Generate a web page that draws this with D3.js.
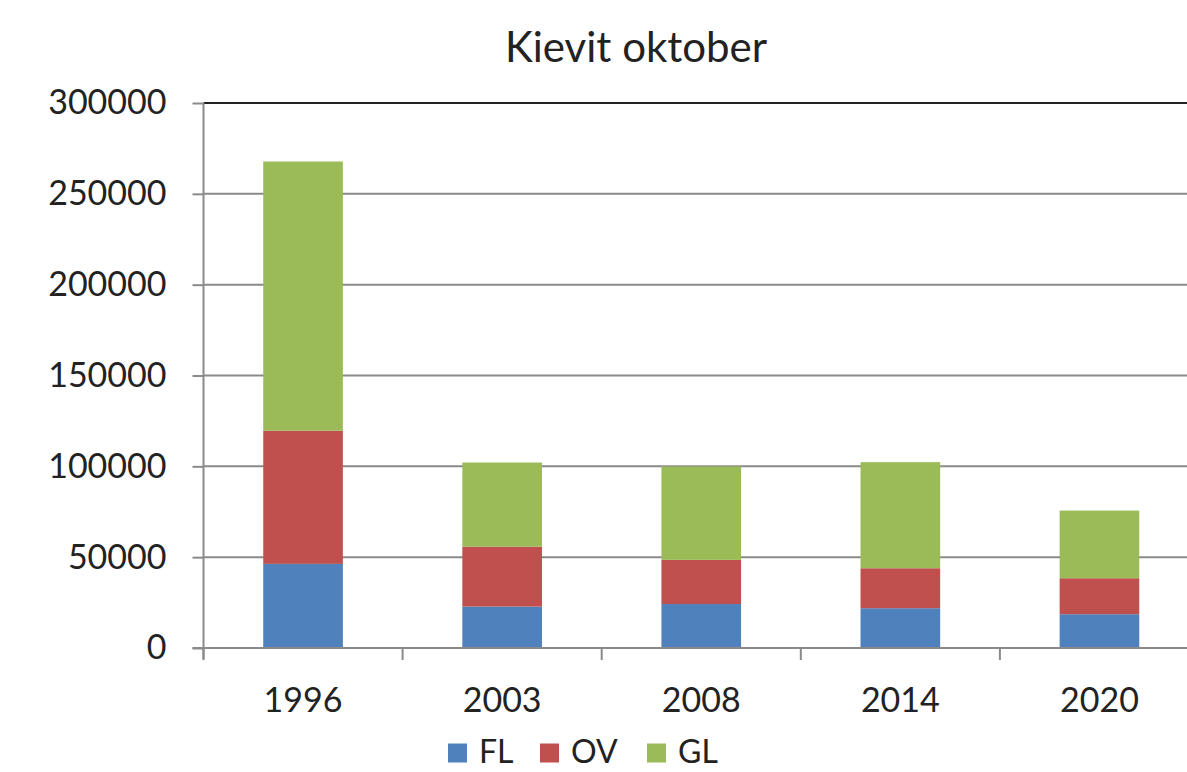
<!DOCTYPE html>
<meta charset="utf-8">
<style>
body { margin: 0; background: #fff; }
svg text { font-family: Lato, "Open Sans", sans-serif; fill: #222; }
.grid line { stroke: #8a8a8a; stroke-width: 2px; }
.axis path, .axis line { stroke: #8a8a8a; stroke-width: 2px; }
</style>
<svg width="1187" height="772"></svg>
<script src="https://cdn.jsdelivr.net/npm/d3@7"></script>
<script>

var years = ["1996", "2003", "2008", "2014", "2020"];
var seriesNames = ["FL", "OV", "GL"];
var colors = ["#4f81bd", "#c0504d", "#9bbb59"];
var FL = [46300, 22800, 24200, 21900, 18600];
var OV = [73300, 33000, 24300, 22000, 19800];
var GL = [148200, 46300, 51400, 58400, 37250];
var yTicks = [0, 50000, 100000, 150000, 200000, 250000, 300000];

var svg = d3.select("svg"),
    margin = {top: 103, right: -12, bottom: 124, left: 203.5},
    width = +svg.attr("width") - margin.left - margin.right,
    height = +svg.attr("height") - margin.top - margin.bottom,
    g = svg.append("g").attr("transform", "translate(" + margin.left + "," + margin.top + ")");

var x = d3.scaleBand().domain(years).range([0, width]).paddingInner(0.6).paddingOuter(0.3),
    y = d3.scaleLinear().domain([0, 300000]).range([height, 0]),
    z = d3.scaleOrdinal().domain(seriesNames).range(colors);

var rows = years.map(function(yr, i) {
  return {year: yr, FL: FL[i], OV: OV[i], GL: GL[i]};
});
var stacked = d3.stack().keys(seriesNames)(rows);

// gridlines
g.append("g")
    .attr("class", "grid")
  .selectAll("line")
  .data(yTicks.slice(1))
  .enter().append("line")
    .attr("x1", 0)
    .attr("x2", width)
    .attr("y1", function(d) { return y(d); })
    .attr("y2", function(d) { return y(d); })
    .style("stroke", function(d) { return d === 300000 ? "#222" : null; });

// bars
g.selectAll(".serie")
  .data(stacked)
  .enter().append("g")
    .attr("class", "serie")
    .attr("fill", function(d) { return z(d.key); })
  .selectAll("rect")
  .data(function(d) { return d; })
  .enter().append("rect")
    .attr("x", function(d) { return x(d.data.year); })
    .attr("y", function(d) { return y(d[1]); })
    .attr("height", function(d) { return y(d[0]) - y(d[1]); })
    .attr("width", x.bandwidth());

// y axis
var yAxis = g.append("g")
    .attr("class", "axis axis--y")
    .call(d3.axisLeft(y).tickValues(yTicks).tickSize(11).tickPadding(26).tickFormat(d3.format("d")));
yAxis.select(".domain").attr("d", "M0," + (height + 11) + "V0");
yAxis.selectAll("text").style("font-size", "34px").style("fill", "#222");

// x axis
var step = x.step(), edges = d3.range(years.length + 1).map(function(i) { return i * step; });
var xAxis = g.append("g")
    .attr("class", "axis axis--x")
    .attr("transform", "translate(0," + height + ")");
xAxis.append("line").attr("x1", -11).attr("x2", width).attr("y1", 0).attr("y2", 0);
xAxis.selectAll(".tick")
  .data(edges)
  .enter().append("line")
    .attr("class", "tick")
    .attr("x1", function(d) { return d; })
    .attr("x2", function(d) { return d; })
    .attr("y1", 0)
    .attr("y2", 12);
xAxis.selectAll(".lbl")
  .data(years)
  .enter().append("text")
    .attr("class", "lbl")
    .attr("x", function(d) { return x(d) + x.bandwidth() / 2; })
    .attr("y", 64)
    .attr("text-anchor", "middle")
    .style("font-size", "34px")
    .text(function(d) { return d; });

// title
svg.append("text")
    .attr("x", 636)
    .attr("y", 62)
    .attr("text-anchor", "middle")
    .style("font-size", "42px")
    .text("Kievit oktober");

// legend
var legendX = [448, 540, 647];
var legend = svg.append("g").attr("transform", "translate(0,753)");
var item = legend.selectAll(".item")
  .data(seriesNames)
  .enter().append("g")
    .attr("class", "item")
    .attr("transform", function(d, i) { return "translate(" + legendX[i] + ",0)"; });
item.append("rect")
    .attr("x", 0).attr("y", -9.5)
    .attr("width", 19).attr("height", 19)
    .attr("fill", function(d) { return z(d); });
item.append("text")
    .attr("x", 31)
    .attr("y", 10)
    .style("font-size", "32px")
    .text(function(d) { return d; });

</script>
